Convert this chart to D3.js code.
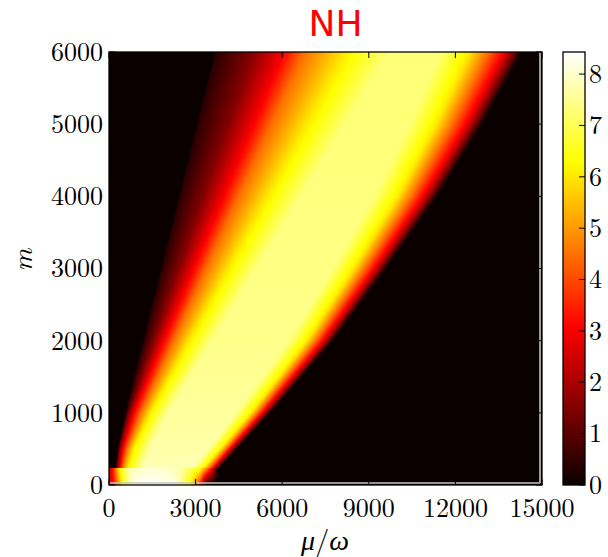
<!DOCTYPE html>
<html><head><meta charset="utf-8">
<script src="https://cdn.jsdelivr.net/npm/d3@7"></script>
<style>body{margin:0;background:#fff}svg{display:block}</style>
</head><body>
<svg id="chart" width="608" height="557"></svg>
<script>
// ================= data =================
const titleText = "NH";
// Main diagonal band: for each m row, the μ/ω positions where NH crosses each level
// (left edge, 0.4, 1.5, 3, 4.5, 6, plateau start, plateau end, 6, 4.5, 3, 1.5, right edge)
const bandRowsM = [250, 500, 1000, 2000, 3000, 4000, 5000, 6000];
const bandPeak  = [7.8, 7.7, 7.6, 7.45, 7.4, 7.35, 7.3, 7.3];
const bandLevels = [0, 0.4, 1.5, 3.0, 4.5, 6.0, null, null, 6.0, 4.5, 3.0, 1.5, 0];
const bandKnotX = [
  [208, 242, 294, 381, 485, 658, 1178, 2914, 3330, 3503, 3642, 3746, 3850],
  [277, 312, 364, 485, 624, 831, 1420, 3426, 3876, 4049, 4188, 4309, 4430],
  [554, 589, 693, 866, 1109, 1420, 2044, 4377, 4931, 5139, 5312, 5451, 5590],
  [1178, 1212, 1545, 1898, 2245, 2771, 3582, 6222, 6873, 7164, 7413, 7594, 7760],
  [1801, 1836, 2397, 2931, 3381, 4122, 5120, 7732, 8480, 8854, 9180, 9402, 9596],
  [2425, 2460, 3249, 3963, 4517, 5473, 6658, 9173, 10019, 10476, 10878, 11141, 11363],
  [3048, 3083, 4102, 4995, 5654, 6824, 8196, 10406, 11349, 11889, 12367, 12672, 12921],
  [3672, 3707, 4954, 6028, 6790, 8176, 9734, 11467, 12506, 13129, 13684, 14030, 14307]
];
// Bright strip at the bottom (m below ~235): profiles along μ/ω
const boxTopM = 235;
const boxRowsM = [0, 220];
const boxKnotX = [
  [0, 140, 485, 830, 1400, 2290, 2800, 3050, 3190, 3300, 3395],
  [0, 100, 380, 700, 1500, 2450, 3150, 3400, 3550, 3680, 3780]
];
const boxKnotV = [
  [2.6, 3.0, 6.3, 8.25, 8.43, 8.25, 6.3, 4.5, 3.0, 1.2, 0],
  [2.2, 3.0, 6.3, 7.8, 8.1, 7.8, 6.3, 4.5, 3.0, 1.2, 0]
];
const xTicks = [0, 3000, 6000, 9000, 12000, 15000];
const yTicks = [0, 1000, 2000, 3000, 4000, 5000, 6000];
const cbTicks = [0, 1, 2, 3, 4, 5, 6, 7, 8];
const colorRange = [0, 8.43];

// ================= layout =================
const X0 = 109, X1 = 542, Y0 = 52, Y1 = 485;
const CB0 = 563, CB1 = 585;
const serif = "'Latin Modern Roman','CMU Serif','Liberation Serif','DejaVu Serif',serif";
const svg = d3.select("#chart");

const x = d3.scaleLinear().domain([0, 15000]).range([X0, X1]);
const y = d3.scaleLinear().domain([0, 6000]).range([Y1, Y0]);
const cbY = d3.scaleLinear().domain(colorRange).range([Y1, Y0]);
const norm = d3.scaleLinear().domain(colorRange).range([0, 1]).clamp(true);

// matplotlib "hot" colormap
function hot(f) {
  f = Math.max(0, Math.min(1, f));
  const r = 0.0416 + (1 - 0.0416) * Math.min(1, f / 0.365079);
  const g = Math.max(0, Math.min(1, (f - 0.365079) / (0.746032 - 0.365079)));
  const b = Math.max(0, Math.min(1, (f - 0.746032) / (1 - 0.746032)));
  return [r * 255, g * 255, b * 255];
}

function profile(xs, vs, xv) {
  const n = xs.length;
  if (xv < xs[0] || xv > xs[n - 1]) return 0;
  let k = d3.bisectRight(xs, xv) - 1;
  k = Math.max(0, Math.min(n - 2, k));
  const d = xs[k + 1] - xs[k];
  const t = d > 0 ? (xv - xs[k]) / d : 1;
  return vs[k] * (1 - t) + vs[k + 1] * t;
}

const bandV = bandRowsM.map((_, j) => bandLevels.map(v => v === null ? bandPeak[j] : v));

function valueAt(xv, mv) {
  if (mv < boxTopM) {
    const t = Math.max(0, Math.min(1, (mv - boxRowsM[0]) / (boxRowsM[1] - boxRowsM[0])));
    const a = profile(boxKnotX[0], boxKnotV[0], xv);
    const b = profile(boxKnotX[1], boxKnotV[1], xv);
    return a * (1 - t) + b * t;
  }
  let j = d3.bisectRight(bandRowsM, mv) - 1;
  j = Math.max(0, Math.min(bandRowsM.length - 2, j));
  const t = Math.max(0, Math.min(1, (mv - bandRowsM[j]) / (bandRowsM[j + 1] - bandRowsM[j])));
  const xs = bandKnotX[j].map((p, k) => p * (1 - t) + bandKnotX[j + 1][k] * t);
  const vs = bandV[j].map((v, k) => v * (1 - t) + bandV[j + 1][k] * t);
  return profile(xs, vs, xv);
}

// ================= heatmap image =================
const W = X1 - X0, H = Y1 - Y0;
const cv = document.createElement("canvas"); cv.width = W; cv.height = H;
const ctx = cv.getContext("2d");
const img = ctx.createImageData(W, H);
const sub = [0.25, 0.75];
for (let py = 0; py < H; py++) {
  for (let px = 0; px < W; px++) {
    let r = 0, g = 0, b = 0;
    for (const sy of sub) for (const sx of sub) {
      const c = hot(norm(valueAt(x.invert(X0 + px + sx), y.invert(Y0 + py + sy))));
      r += c[0]; g += c[1]; b += c[2];
    }
    const k = 4 * (py * W + px);
    img.data[k] = Math.round(r / 4); img.data[k + 1] = Math.round(g / 4);
    img.data[k + 2] = Math.round(b / 4); img.data[k + 3] = 255;
  }
}
ctx.putImageData(img, 0, 0);
svg.append("image").attr("x", X0).attr("y", Y0).attr("width", W).attr("height", H)
  .attr("preserveAspectRatio", "none").attr("href", cv.toDataURL());

// light edge of the image (visible in the reference)
svg.append("line").attr("x1", X0).attr("x2", X1 - 2).attr("y1", Y1 - 2).attr("y2", Y1 - 2)
  .attr("stroke", "#c4c4c4").attr("stroke-width", 1.6);
svg.append("line").attr("x1", X1 - 2).attr("x2", X1 - 2).attr("y1", Y0).attr("y2", Y1 - 2)
  .attr("stroke", "#c4c4c4").attr("stroke-width", 1.6);

// frame
svg.append("rect").attr("x", X0).attr("y", Y0).attr("width", W).attr("height", H)
  .attr("fill", "none").attr("stroke", "#000").attr("stroke-width", 1.3);

// ticks (inward, four sides) and labels
const tl = 6;
xTicks.forEach(t => {
  svg.append("line").attr("x1", x(t)).attr("x2", x(t)).attr("y1", Y1).attr("y2", Y1 - tl).attr("stroke", "#000");
  svg.append("line").attr("x1", x(t)).attr("x2", x(t)).attr("y1", Y0).attr("y2", Y0 + tl).attr("stroke", "#000");
  svg.append("text").attr("x", x(t)).attr("y", 517).attr("text-anchor", "middle")
    .attr("font-family", serif).attr("font-size", 26).text(t);
});
yTicks.forEach(t => {
  svg.append("line").attr("x1", X0).attr("x2", X0 + tl).attr("y1", y(t)).attr("y2", y(t)).attr("stroke", "#000");
  svg.append("line").attr("x1", X1).attr("x2", X1 - tl).attr("y1", y(t)).attr("y2", y(t)).attr("stroke", "#000");
  svg.append("text").attr("x", 103).attr("y", y(t)).attr("dy", "0.34em").attr("text-anchor", "end")
    .attr("font-family", serif).attr("font-size", 26).text(t);
});

// axis labels
const xl = svg.append("text").attr("x", 325).attr("y", 550).attr("text-anchor", "middle")
  .attr("font-family", serif).attr("font-size", 28);
xl.append("tspan").attr("font-style", "italic").text("μ");
xl.append("tspan").text("/");
xl.append("tspan").attr("font-style", "italic").text("ω");
svg.append("text").attr("transform", "translate(32,260) rotate(-90)").attr("text-anchor", "middle")
  .attr("font-family", serif).attr("font-size", 28).attr("font-style", "italic").text("m");

// title
svg.append("text").attr("x", 335.5).attr("y", 36).attr("text-anchor", "middle")
  .attr("font-family", "'DejaVu Sans',sans-serif").attr("font-size", 36).attr("fill", "#ff0000").text(titleText);

// colorbar
const defs = svg.append("defs");
const grad = defs.append("linearGradient").attr("id", "cbgrad")
  .attr("x1", 0).attr("y1", 1).attr("x2", 0).attr("y2", 0);
d3.range(0, 1.0001, 0.01).forEach(f => {
  const c = hot(f).map(Math.round);
  grad.append("stop").attr("offset", f).attr("stop-color", `rgb(${c[0]},${c[1]},${c[2]})`);
});
svg.append("rect").attr("x", CB0).attr("y", Y0).attr("width", CB1 - CB0).attr("height", H)
  .attr("fill", "url(#cbgrad)").attr("stroke", "#000").attr("stroke-width", 1.3);
cbTicks.forEach(t => {
  svg.append("line").attr("x1", CB1).attr("x2", CB1 - 6).attr("y1", cbY(t)).attr("y2", cbY(t)).attr("stroke", "#000");
  svg.append("text").attr("x", 589).attr("y", cbY(t)).attr("dy", "0.34em")
    .attr("font-family", serif).attr("font-size", 26).text(t);
});
</script>
</body></html>
